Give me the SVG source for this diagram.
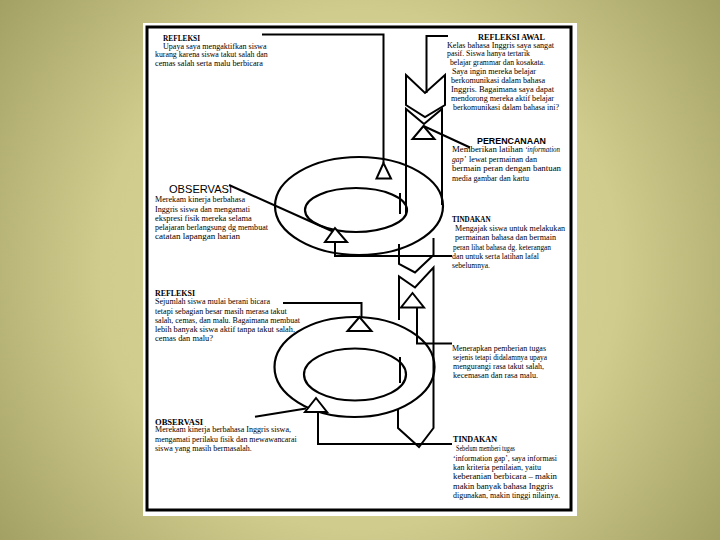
<svg xmlns="http://www.w3.org/2000/svg" width="720" height="540" viewBox="0 0 720 540">
<defs>
<radialGradient id="bg" cx="360" cy="270" r="470" gradientUnits="userSpaceOnUse">
<stop offset="0" stop-color="#dcd89c"/>
<stop offset="0.55" stop-color="#d0cc8e"/>
<stop offset="1" stop-color="#9f9c60"/>
</radialGradient>
<style>
.ln{fill:none;stroke:#000;stroke-width:2;stroke-linejoin:miter}
.tri{fill:#fff;stroke:#000;stroke-width:2}
.ring{fill:none;stroke:#000;stroke-width:2.2}
.t{font-family:"Liberation Serif","Times New Roman",serif;font-size:8px;fill:#000}
.h{font-family:"Liberation Serif","Times New Roman",serif;font-size:8px;font-weight:bold;fill:#000}
.hs{font-family:"Liberation Sans",Arial,sans-serif;font-size:11px;fill:#000}
.hp{font-family:"Liberation Sans",Arial,sans-serif;font-size:8.5px;font-weight:bold;fill:#000}
.i{font-style:italic}
</style>
</defs>
<rect x="0" y="0" width="720" height="540" fill="url(#bg)"/>
<rect x="143" y="23" width="434" height="493" fill="#fff"/>
<rect x="147" y="27" width="424" height="483" fill="none" stroke="#000" stroke-width="3"/>

<g id="rings">
<ellipse class="ring" cx="359" cy="206" rx="84" ry="49"/>
<ellipse class="ring" cx="356" cy="210" rx="51" ry="22"/>
<ellipse class="ring" cx="354.5" cy="367" rx="80" ry="50"/>
<ellipse class="ring" cx="355" cy="374.5" rx="51" ry="26"/>
</g>

<g id="connectors">
<polyline class="ln" points="262,34.5 383.5,34.5 383.5,163"/>
<polyline class="ln" points="448,36 426.5,36 426.5,93"/>
<polygon class="ln" points="406,75 425,93 445,75 445,105 425,117 406,105"/>
<polyline class="ln" points="406,215 406,109 424,124 442,109 442,205"/>
<line class="ln" x1="400" y1="193" x2="400" y2="214"/>
<line class="ln" x1="423.5" y1="126" x2="470" y2="147.5"/>
<line class="ln" x1="229" y1="185" x2="334" y2="232"/>
<polyline class="ln" points="335,242 335,256 452,256"/>
<polyline class="ln" points="399,244 399,264 415,272.5 433.5,255 433.5,238"/>
<polyline class="ln" points="399,320 399,276.5 415,287.5 433.5,267.5 433.5,428 419,447 398,428 398,409"/>
<line class="ln" x1="400" y1="357" x2="400" y2="383"/>
<polyline class="ln" points="283,303 361.5,303 361.5,317"/>
<polyline class="ln" points="417,307.5 417,343.5 452,343.5"/>
<line class="ln" x1="255" y1="416.7" x2="306" y2="408.5"/>
<polyline class="ln" points="318,412 318,444 452,444"/>
</g>

<g id="triangles">
<polygon class="tri" points="383.5,163 376.5,178.5 391,178.5"/>
<polygon class="tri" points="423.5,126 412.5,139 434.5,139"/>
<polygon class="tri" points="335,228 325,242 347,242"/>
<polygon class="tri" points="359.5,317 347.5,331 371.5,331"/>
<polygon class="tri" points="412.5,293 401,307.5 424,307.5"/>
<polygon class="tri" points="316,398 305,412 327,412"/>
</g>

<g id="refleksi-1">
<text class="h" x="163" y="40.5" textLength="37" lengthAdjust="spacingAndGlyphs">REFLEKSI</text>
<text class="t" x="163" y="48.5" textLength="103.5" lengthAdjust="spacingAndGlyphs">Upaya saya mengaktifkan siswa</text>
<text class="t" x="155" y="57" textLength="112.7" lengthAdjust="spacingAndGlyphs">kurang karena siswa takut salah dan</text>
<text class="t" x="155" y="66" textLength="108" lengthAdjust="spacingAndGlyphs">cemas salah serta malu berbicara</text>
</g>

<g id="refleksi-awal">
<text class="h" x="478" y="39.5" textLength="67" lengthAdjust="spacingAndGlyphs">REFLEKSI AWAL</text>
<text class="t" x="447" y="47.5" textLength="107" lengthAdjust="spacingAndGlyphs">Kelas bahasa Inggris saya sangat</text>
<text class="t" x="447" y="56" textLength="83" lengthAdjust="spacingAndGlyphs">pasif. Siswa hanya tertarik</text>
<text class="t" x="450" y="64.9" textLength="95" lengthAdjust="spacingAndGlyphs">belajar grammar dan kosakata.</text>
<text class="t" x="452" y="73.8" textLength="84" lengthAdjust="spacingAndGlyphs">Saya ingin mereka belajar</text>
<text class="t" x="451" y="82.7" textLength="94" lengthAdjust="spacingAndGlyphs">berkomunikasi dalam bahasa</text>
<text class="t" x="451" y="91.7" textLength="103" lengthAdjust="spacingAndGlyphs">Inggris. Bagaimana saya dapat</text>
<text class="t" x="451" y="100.7" textLength="103" lengthAdjust="spacingAndGlyphs">mendorong mereka aktif belajar</text>
<text class="t" x="453" y="110" textLength="106" lengthAdjust="spacingAndGlyphs">berkomunikasi dalam bahasa ini?</text>
</g>

<g id="perencanaan">
<text class="hp" x="477" y="143.5" textLength="69" lengthAdjust="spacingAndGlyphs">PERENCANAAN</text>
<text class="t" x="452" y="152" textLength="71" lengthAdjust="spacingAndGlyphs">Memberikan latihan</text>
<text class="t i" x="525" y="152" textLength="35" lengthAdjust="spacingAndGlyphs">‘information</text>
<text class="t i" x="452" y="161.5" textLength="14" lengthAdjust="spacingAndGlyphs">gap’</text>
<text class="t" x="469" y="161.5" textLength="68" lengthAdjust="spacingAndGlyphs">lewat permainan dan</text>
<text class="t" x="452" y="171" textLength="109" lengthAdjust="spacingAndGlyphs">bermain peran dengan bantuan</text>
<text class="t" x="452" y="180.5" textLength="77" lengthAdjust="spacingAndGlyphs">media gambar dan kartu</text>
</g>

<g id="observasi-1">
<text class="hs" x="169" y="192.5" textLength="63" lengthAdjust="spacingAndGlyphs">OBSERVASI</text>
<text class="t" x="155" y="202" textLength="90" lengthAdjust="spacingAndGlyphs">Merekam kinerja berbahasa</text>
<text class="t" x="155" y="211.5" textLength="95" lengthAdjust="spacingAndGlyphs">Inggris siswa dan mengamati</text>
<text class="t" x="155" y="221" textLength="96.7" lengthAdjust="spacingAndGlyphs">ekspresi fisik mereka selama</text>
<text class="t" x="155" y="230" textLength="113" lengthAdjust="spacingAndGlyphs">pelajaran berlangsung dg membuat</text>
<text class="t" x="155" y="239" textLength="85" lengthAdjust="spacingAndGlyphs">catatan lapangan harian</text>
</g>

<g id="tindakan-1">
<text class="h" x="452" y="222" textLength="38.5" lengthAdjust="spacingAndGlyphs">TINDAKAN</text>
<text class="t" x="455" y="230.5" textLength="110" lengthAdjust="spacingAndGlyphs">Mengajak siswa untuk melakukan</text>
<text class="t" x="455" y="240" textLength="101" lengthAdjust="spacingAndGlyphs">permainan bahasa dan bermain</text>
<text class="t" x="453" y="249.5" textLength="98" lengthAdjust="spacingAndGlyphs">peran lihat bahasa dg. keterangan</text>
<text class="t" x="452" y="258.5" textLength="87" lengthAdjust="spacingAndGlyphs">dan untuk serta latihan lafal</text>
<text class="t" x="452" y="268" textLength="38" lengthAdjust="spacingAndGlyphs">sebelumnya.</text>
</g>

<g id="refleksi-2">
<text class="h" x="155" y="296" textLength="40" lengthAdjust="spacingAndGlyphs">REFLEKSI</text>
<text class="t" x="155" y="304" textLength="115" lengthAdjust="spacingAndGlyphs">Sejumlah siswa mulai berani bicara</text>
<text class="t" x="155" y="313.5" textLength="131.7" lengthAdjust="spacingAndGlyphs">tetapi sebagian besar masih merasa takut</text>
<text class="t" x="155" y="322.7" textLength="145" lengthAdjust="spacingAndGlyphs">salah, cemas, dan malu. Bagaimana membuat</text>
<text class="t" x="155" y="331.7" textLength="140" lengthAdjust="spacingAndGlyphs">lebih banyak siswa aktif tanpa takut salah,</text>
<text class="t" x="155" y="341" textLength="58" lengthAdjust="spacingAndGlyphs">cemas dan malu?</text>
</g>

<g id="menerapkan">
<text class="t" x="452" y="351" textLength="94" lengthAdjust="spacingAndGlyphs">Menerapkan pemberian tugas</text>
<text class="t" x="453" y="360" textLength="94" lengthAdjust="spacingAndGlyphs">sejenis tetapi didalamnya upaya</text>
<text class="t" x="453" y="369.3" textLength="91" lengthAdjust="spacingAndGlyphs">mengurangi rasa takut salah,</text>
<text class="t" x="453" y="378.3" textLength="85" lengthAdjust="spacingAndGlyphs">kecemasan dan rasa malu.</text>
</g>

<g id="observasi-2">
<text class="h" x="155" y="424.5" textLength="48" lengthAdjust="spacingAndGlyphs">OBSERVASI</text>
<text class="t" x="155" y="432" textLength="136" lengthAdjust="spacingAndGlyphs">Merekam kinerja berbahasa Inggris siswa,</text>
<text class="t" x="155" y="441.7" textLength="141.7" lengthAdjust="spacingAndGlyphs">mengamati perilaku fisik dan mewawancarai</text>
<text class="t" x="155" y="451" textLength="96.7" lengthAdjust="spacingAndGlyphs">siswa yang masih bermasalah.</text>
</g>

<g id="tindakan-2">
<text class="h" x="453" y="442" textLength="44" lengthAdjust="spacingAndGlyphs">TINDAKAN</text>
<text class="t" x="456" y="451" textLength="59" lengthAdjust="spacingAndGlyphs">Sebelum memberi tugas</text>
<text class="t" x="453" y="460.7" textLength="104" lengthAdjust="spacingAndGlyphs">‘information gap’, saya informasi</text>
<text class="t" x="453" y="470" textLength="88" lengthAdjust="spacingAndGlyphs">kan kriteria penilaian, yaitu</text>
<text class="t" x="453" y="479.3" textLength="104" lengthAdjust="spacingAndGlyphs">keberanian berbicara – makin</text>
<text class="t" x="453" y="489.3" textLength="100" lengthAdjust="spacingAndGlyphs">makin banyak bahasa Inggris</text>
<text class="t" x="453" y="498.3" textLength="107" lengthAdjust="spacingAndGlyphs">digunakan, makin tinggi nilainya.</text>
</g>
</svg>
